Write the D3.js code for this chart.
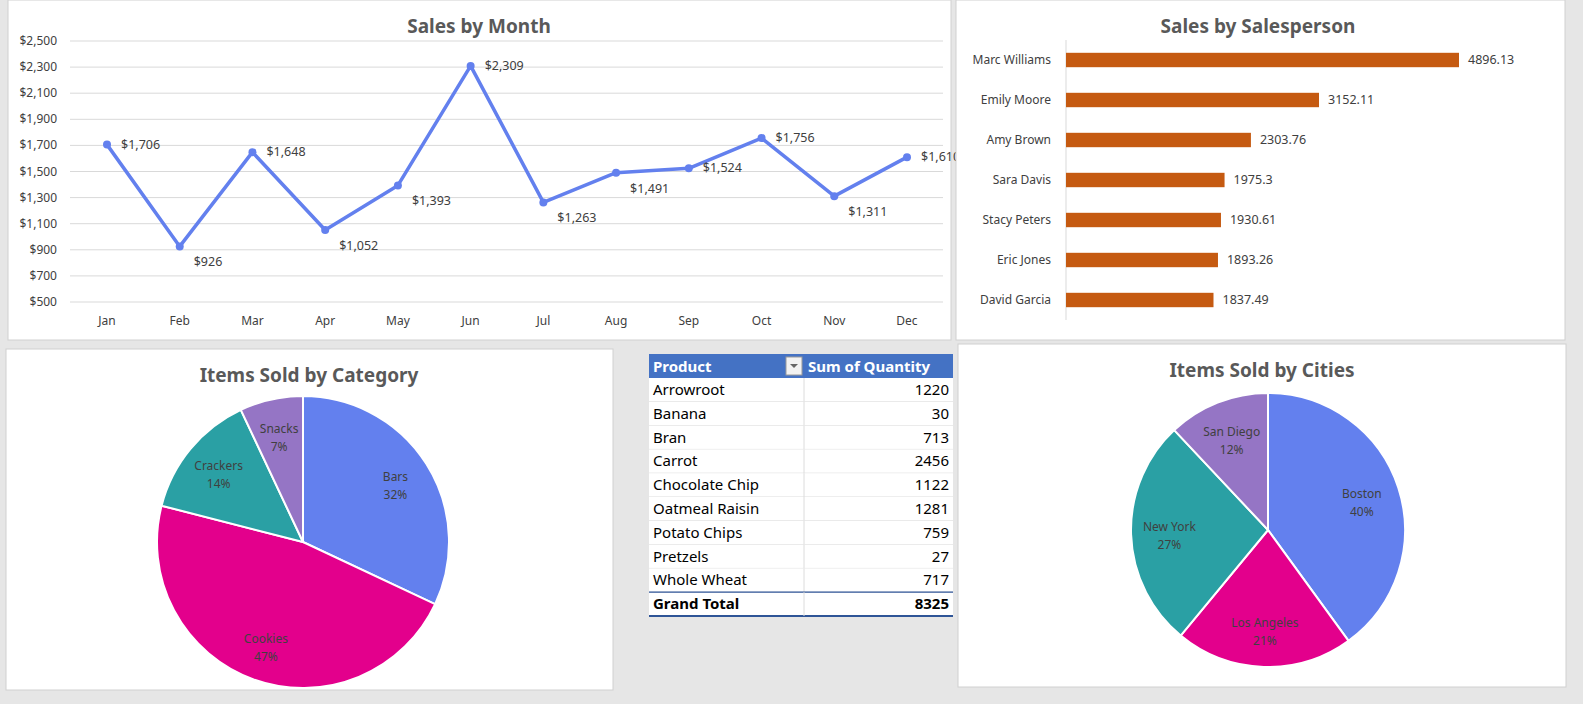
<!DOCTYPE html>
<html><head><meta charset="utf-8">
<script src="https://cdn.jsdelivr.net/npm/d3@7"></script>
<style>
body{margin:0;background:#e6e6e6;font-family:"Noto Sans","Open Sans",sans-serif;}
svg{display:block}
</style></head>
<body>
<svg id="c" width="1583" height="704"></svg>
<script>
// data
const months = ["Jan","Feb","Mar","Apr","May","Jun","Jul","Aug","Sep","Oct","Nov","Dec"];
const monthSales = [1706,926,1648,1052,1393,2309,1263,1491,1524,1756,1311,1610];
const yTicks = [500,700,900,1100,1300,1500,1700,1900,2100,2300,2500];

const people = ["Marc Williams","Emily Moore","Amy Brown","Sara Davis","Stacy Peters","Eric Jones","David Garcia"];
const personSales = [4896.13,3152.11,2303.76,1975.3,1930.61,1893.26,1837.49];

const categories = ["Bars","Cookies","Crackers","Snacks"];
const categoryShare = [32,47,14,7];
const cities = ["Boston","Los Angeles","New York","San Diego"];
const cityShare = [40,21,27,12];
const pieColors = ["#6380ee","#e3008c","#2aa0a4","#9575c5"];

const products = ["Arrowroot","Banana","Bran","Carrot","Chocolate Chip","Oatmeal Raisin","Potato Chips","Pretzels","Whole Wheat"];
const quantities = [1220,30,713,2456,1122,1281,759,27,717];

const svg = d3.select("#c");
const txt = "#404040";

function panel(x,y,w,h){
  svg.append("rect").attr("x",x).attr("y",y).attr("width",w).attr("height",h).attr("fill","#fff").attr("stroke","#d0d0d0");
}
function title(x,y,t){
  svg.append("text").attr("x",x).attr("y",y).attr("text-anchor","middle").attr("font-size",19).attr("font-weight","bold").attr("fill","#595959").text(t);
}

// line chart
panel(8,0,943,340);
title(479,33,"Sales by Month");
const x = d3.scalePoint().domain(months).range([107,907]);
const y = d3.scaleLinear().domain([500,2500]).range([302,41]);
const gl = svg.append("g");
yTicks.forEach(t=>{
  gl.append("line").attr("x1",70).attr("x2",943).attr("y1",y(t)).attr("y2",y(t)).attr("stroke","#d9d9d9");
  gl.append("text").attr("x",57).attr("y",y(t)+4).attr("text-anchor","end").attr("font-size",12).attr("fill",txt).text(d3.format("$,")(t));
});
months.forEach(m=>gl.append("text").attr("x",x(m)).attr("y",325).attr("text-anchor","middle").attr("font-size",12).attr("fill",txt).text(m));
svg.append("path").datum(monthSales)
  .attr("d",d3.line().x((d,i)=>x(months[i])).y(d=>y(d)))
  .attr("fill","none").attr("stroke","#6380ee").attr("stroke-width",3.5).attr("stroke-linejoin","round");
const above = [true,false,true,false,false,true,false,false,true,true,false,true];
monthSales.forEach((v,i)=>{
  svg.append("circle").attr("cx",x(months[i])).attr("cy",y(v)).attr("r",4).attr("fill","#6380ee");
  svg.append("text").attr("x",x(months[i])+14).attr("y",y(v)+(above[i]?4:20)).attr("font-size",12.5).attr("fill",txt).text(d3.format("$,")(v));
});

// bar chart
panel(956,0,609,340);
title(1258,33,"Sales by Salesperson");
const bx = d3.scaleLinear().domain([0,4896.13]).range([1066,1459]);
const by = d3.scaleBand().domain(people).range([40,320]).paddingInner(0.64).paddingOuter(0.32);
svg.append("line").attr("x1",1066).attr("x2",1066).attr("y1",40).attr("y2",320).attr("stroke","#d9d9d9");
people.forEach((p,i)=>{
  const cy = by(p)+by.bandwidth()/2;
  svg.append("rect").attr("x",bx(0)).attr("y",by(p)).attr("width",bx(personSales[i])-bx(0)).attr("height",by.bandwidth()).attr("fill","#c55a11");
  svg.append("text").attr("x",1051).attr("y",cy+4).attr("text-anchor","end").attr("font-size",12).attr("fill",txt).text(p);
  svg.append("text").attr("x",bx(personSales[i])+9).attr("y",cy+4).attr("font-size",12.5).attr("fill",txt).text(personSales[i]);
});

// pies
function pie(cx,cy,r,names,vals,labelR){
  const arcs = d3.pie().sort(null)(vals);
  const arc = d3.arc().innerRadius(0).outerRadius(r);
  const la = d3.arc().innerRadius(r*labelR).outerRadius(r*labelR);
  const g = svg.append("g").attr("transform",`translate(${cx},${cy})`);
  arcs.forEach((a,i)=>{
    g.append("path").attr("d",arc(a)).attr("fill",pieColors[i]).attr("stroke","#fff").attr("stroke-width",2);
    const [lx,ly] = la.centroid(a);
    g.append("text").attr("x",lx).attr("y",ly-2).attr("text-anchor","middle").attr("font-size",12).attr("fill","#404040").text(names[i]);
    g.append("text").attr("x",lx).attr("y",ly+16).attr("text-anchor","middle").attr("font-size",12).attr("fill","#404040").text(vals[i]+"%");
  });
}
panel(6,349,607,341);
title(309,382,"Items Sold by Category");
pie(303,542,146,categories,categoryShare,0.75);
panel(958,344,608,343);
title(1262,377,"Items Sold by Cities");
pie(1268,530,137,cities,cityShare,0.72);

// table
const tx=649, tw=304, tc=804, rh=23.8, ty=354;
const tg = svg.append("g").attr("font-size",15).attr("fill","#000");
tg.append("rect").attr("x",tx).attr("y",ty).attr("width",tw).attr("height",24).attr("fill","#4472c4");
tg.append("text").attr("x",tx+4).attr("y",ty+18).attr("fill","#fff").attr("font-weight","bold").text("Product");
tg.append("text").attr("x",tc+4).attr("y",ty+18).attr("fill","#fff").attr("font-weight","bold").text("Sum of Quantity");
tg.append("rect").attr("x",tc-18).attr("y",ty+3).attr("width",16).attr("height",18).attr("fill","#f2f2f2").attr("stroke","#999");
tg.append("path").attr("d",`M${tc-14},${ty+10}h8l-4,4z`).attr("fill","#666");
const rows = products.concat(["Grand Total"]);
const vals = quantities.concat([d3.sum(quantities)]);
rows.forEach((p,i)=>{
  const yy = ty+24+i*rh;
  const last = i===rows.length-1;
  tg.append("rect").attr("x",tx).attr("y",yy).attr("width",tw).attr("height",rh).attr("fill","#fff");
  tg.append("line").attr("x1",tx).attr("x2",tx+tw).attr("y1",yy+rh).attr("y2",yy+rh).attr("stroke",last?"#2f5597":"#dcdcdc").attr("stroke-width",last?2:1);
  if(last) tg.append("line").attr("x1",tx).attr("x2",tx+tw).attr("y1",yy).attr("y2",yy).attr("stroke","#2f5597").attr("stroke-width",1.2);
  tg.append("line").attr("x1",tc).attr("x2",tc).attr("y1",yy).attr("y2",yy+rh).attr("stroke","#dcdcdc");
  tg.append("text").attr("x",tx+4).attr("y",yy+17).attr("font-weight",last?"bold":"normal").text(p);
  tg.append("text").attr("x",tx+tw-4).attr("y",yy+17).attr("text-anchor","end").attr("font-weight",last?"bold":"normal").text(vals[i]);
});
</script>
</body></html>
